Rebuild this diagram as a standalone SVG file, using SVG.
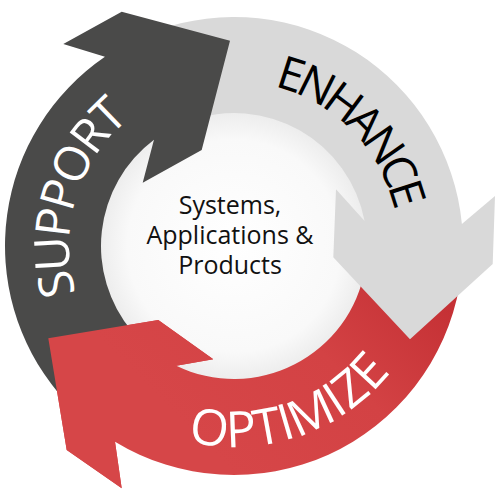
<svg xmlns="http://www.w3.org/2000/svg" width="501" height="501" viewBox="0 0 501 501">
<style>
.lbl{font-family:"Open Sans","Noto Sans",sans-serif}
.ctr{font-family:"Open Sans","Noto Sans",sans-serif;font-size:25px;fill:#111;text-anchor:middle}
</style>
<defs>
<radialGradient id="disc" cx="234" cy="246" r="133" gradientUnits="userSpaceOnUse">
<stop offset="0" stop-color="#ffffff"/>
<stop offset="0.8" stop-color="#f9f9f9"/>
<stop offset="1" stop-color="#ededed"/>
</radialGradient>
<linearGradient id="redg" x1="420" y1="280" x2="230" y2="470" gradientUnits="userSpaceOnUse">
<stop offset="0" stop-color="#c53135"/>
<stop offset="0.45" stop-color="#d34244"/>
<stop offset="1" stop-color="#d64648"/>
</linearGradient>
<path id="tpSupport" d="M114.1,359.4 A165,165 0 0 1 195.8,85.5"/>
<path id="tpEnhance" d="M191.4,87.1 A164.5,164.5 0 0 1 392.9,288.6"/>
<path id="tpOptimize" d="M102.1,397.7 A201,201 0 0 0 431.3,284.4"/>
</defs>
<rect width="501" height="501" fill="#ffffff"/>
<g id="center">
<circle cx="234" cy="246" r="134" fill="url(#disc)"/>
<text class="ctr" x="230" y="214">Systems,</text>
<text class="ctr" x="230" y="244">Applications &amp;</text>
<text class="ctr" x="230" y="274">Products</text>
</g>
<g id="connectors">
<g id="optimize">
<path d="M459.5,285.8 A229,229 0 0 1 115,441.7 L121.7,488.3 L66.7,450 L48.3,338.3 L158.3,320 L213.3,359.3 L176.3,365.8 A133,133 0 0 0 365,269.1 Z" fill="url(#redg)"/>
</g>
<g id="enhance">
<path d="M155.7,30.8 A229,229 0 0 1 461.9,224.1 L495,196 L492.7,264 L410,339.3 L333.3,257.3 L336,189.3 L364.6,220.9 A133,133 0 0 0 188.5,121 Z" fill="#d9d9d9"/>
</g>
<g id="support">
<path d="M58.6,393.2 A229,229 0 0 1 104.95,56.8 L63.3,44 L121.7,11.7 L230,40.7 L201.7,150 L142.7,182.7 L153.96,139.8 A133,133 0 0 0 132.1,331.5 Z" fill="#4a4a49"/>
</g>
<g id="optimize-head">
<path d="M115,441.7 L121.7,488.3 L66.7,450 L48.3,338.3 L158.3,320 L213.3,359.3 L176.3,365.8 Z" fill="url(#redg)"/>
</g>
</g>
<g id="labels">
<text class="lbl" fill="#ffffff" font-size="48" letter-spacing="-3"><textPath href="#tpSupport" startOffset="50%" text-anchor="middle">SUPPORT</textPath></text>
<text class="lbl" fill="#000000" font-size="46" letter-spacing="-5"><textPath href="#tpEnhance" startOffset="50%" text-anchor="middle">ENHANCE</textPath></text>
<text class="lbl" fill="#ffffff" font-size="50"><textPath href="#tpOptimize" startOffset="50%" text-anchor="middle">OPTIMIZE</textPath></text>
</g>
</svg>
